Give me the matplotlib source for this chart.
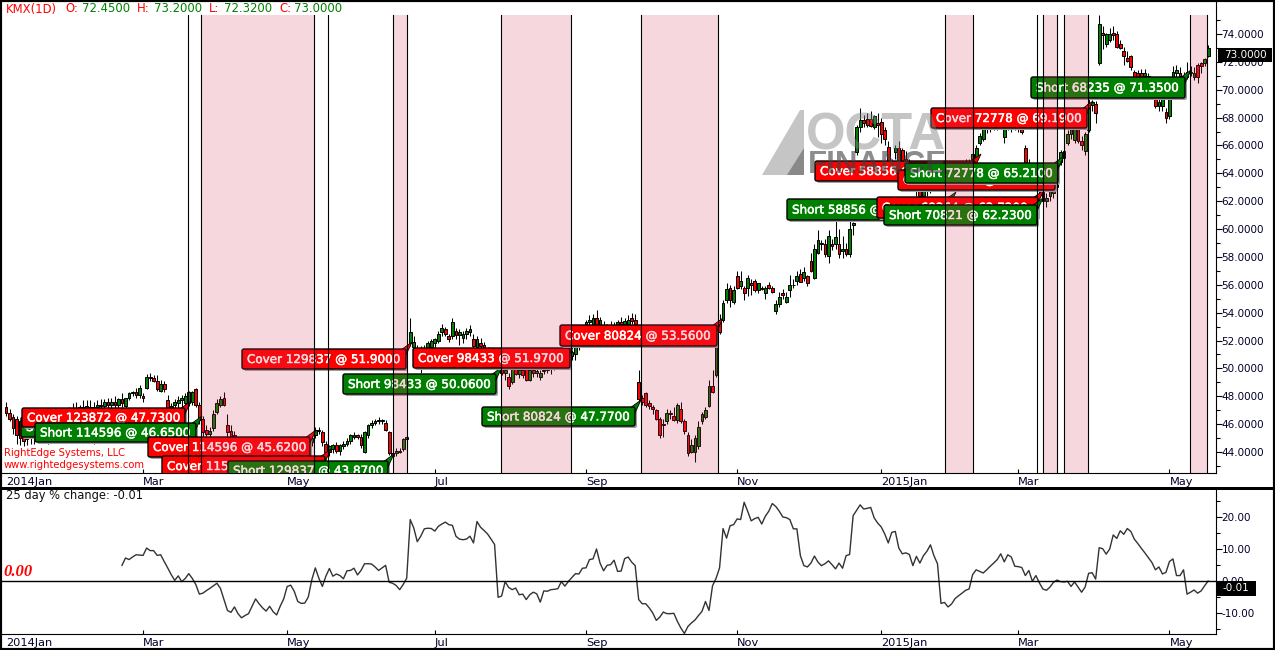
import numpy as np
import matplotlib
matplotlib.use("Agg")
import matplotlib.pyplot as plt
import matplotlib.patheffects as pe
from matplotlib.patches import FancyBboxPatch, Polygon, Rectangle
from matplotlib.transforms import Affine2D
from matplotlib.ticker import FixedLocator, MultipleLocator

# daily candles, one row of ten per line
opens = [47.2,46.8,46.5,46.4,46.2,45.2,44.9,45.3,45.1,45.6,
         45.2,45.7,45.4,45.8,45.5,45.9,46.1,46.5,46.2,46.9,
         47.1,46.7,47.2,47.0,47.2,46.9,47.2,47.4,47.3,47.6,
         47.4,47.6,47.4,47.8,47.3,47.9,48.2,48.3,48.1,48.0,
         48.6,49.4,49.3,49.1,48.4,48.9,47.7,47.1,47.4,47.5,
         47.7,47.5,47.5,47.6,48.5,47.4,46.4,45.6,45.3,45.7,
         46.9,47.4,47.9,45.9,45.5,45.2,44.9,44.4,44.2,43.9,
         44.1,43.8,43.5,43.3,43.6,43.9,44.0,43.7,43.4,43.7,
         43.5,43.8,44.2,44.4,44.2,44.0,44.3,44.7,45.2,45.6,
         45.4,44.6,44.0,44.2,44.5,44.1,44.4,44.6,44.8,45.1,
         45.2,45.1,44.0,45.2,45.9,46.1,46.2,46.3,46.1,45.4,
         43.9,43.9,44.1,44.2,44.9,51.8,51.5,51.2,50.9,51.1,
         51.4,51.5,51.8,52.0,52.6,52.8,52.3,52.3,52.7,52.4,
         52.2,52.5,52.6,52.1,51.5,51.8,51.7,51.2,50.8,50.5,
         50.3,50.0,49.7,49.4,49.0,50.0,49.6,49.9,50.0,49.2,
         49.9,49.7,49.4,49.8,49.9,50.0,50.2,50.3,50.6,50.5,
         50.8,50.9,51.0,51.5,52.1,52.6,53.3,53.0,53.6,53.0,
         53.0,52.7,53.0,52.8,53.1,53.3,53.2,53.2,53.6,53.5,
         49.0,47.9,48.2,47.5,47.2,47.0,46.4,46.0,46.2,46.8,
         46.6,46.3,47.1,46.2,45.2,44.0,44.0,44.4,46.2,46.5,
         47.3,48.7,49.5,53.5,53.5,54.9,55.8,54.8,56.6,55.9,
         55.8,55.8,56.1,56.3,55.6,55.8,55.4,56.0,55.8,54.1,
         54.6,55.4,54.8,55.6,56.0,56.3,56.8,56.5,56.6,57.7,
         56.5,58.3,59.0,58.9,58.1,58.9,58.9,58.9,58.4,58.6,
         58.2,60.3,65.5,67.3,67.8,67.9,67.9,67.3,67.6,67.7,
         67.1,65.9,64.8,65.5,65.8,65.7,65.0,64.5,64.1,63.8,
         62.8,62.4,62.8,63.0,63.5,63.3,63.7,64.2,64.0,63.5,
         63.9,63.6,64.0,64.4,64.2,65.0,65.2,66.2,66.5,67.3,
         67.5,67.3,67.4,67.6,66.6,67.4,67.5,67.5,67.4,67.2,
         65.8,64.6,64.2,63.9,63.3,62.7,62.0,62.4,62.6,63.0,
         64.8,65.6,66.2,66.8,66.4,67.3,66.3,65.6,67.1,68.9,
         69.0,71.9,74.1,73.3,73.6,74.1,74.0,73.3,72.8,72.3,
         72.4,71.3,71.2,71.2,71.0,71.0,70.4,69.4,68.8,68.8,
         68.4,68.1,70.9,71.2,71.2,71.0,70.9,71.3,70.9,71.8,
         71.9,71.9,72.45]
highs = [47.6,47.1,46.7,46.6,46.3,45.6,45.5,45.6,45.8,46.1,
         45.9,46.2,46.0,46.3,46.1,46.4,46.8,46.9,47.2,47.5,
         47.6,47.4,47.7,47.7,47.7,47.6,47.7,47.8,47.8,47.9,
         47.9,48.0,47.9,48.2,47.9,48.3,48.4,48.6,48.8,48.2,
         49.6,49.7,49.5,49.5,49.2,49.1,48.1,47.5,47.8,48.0,
         48.1,48.2,48.4,48.4,48.6,47.6,46.6,45.9,45.8,47.0,
         47.8,48.0,48.3,46.7,45.9,45.5,45.1,44.8,44.6,44.3,
         44.4,44.1,43.9,43.8,44.1,44.3,44.3,44.0,43.9,44.0,
         44.0,44.3,44.6,44.7,44.5,44.4,44.8,45.2,45.8,45.8,
         45.6,44.8,44.5,44.6,44.7,44.6,44.8,45.0,45.3,45.4,
         45.3,45.3,45.5,46.0,46.3,46.4,46.5,46.4,46.3,45.5,
         44.2,44.3,44.3,45.0,45.3,53.6,52.3,51.7,51.6,51.7,
         52.0,52.1,52.2,52.7,53.2,53.0,52.5,53.6,52.9,52.8,
         52.7,52.9,53.1,52.5,52.3,52.2,51.9,51.5,51.1,50.8,
         50.7,50.4,50.1,49.7,50.1,50.2,50.1,50.1,50.2,50.1,
         50.2,50.0,49.9,50.0,50.1,50.4,50.5,50.7,50.9,51.0,
         51.1,51.3,51.9,52.3,52.9,53.5,53.8,53.9,54.2,53.7,
         53.4,53.2,53.4,53.3,53.5,53.7,53.6,53.8,54.0,53.9,
         49.9,48.1,48.3,47.7,47.4,47.1,46.5,46.4,47.1,47.0,
         47.2,47.5,47.6,46.4,45.4,44.9,45.2,46.2,46.9,47.2,
         49.2,49.9,51.9,53.9,54.9,56.1,56.0,55.9,57.0,57.0,
         55.9,56.7,56.4,56.4,56.1,55.9,55.9,56.2,55.9,54.9,
         55.5,55.7,55.5,56.7,56.4,57.0,57.1,57.3,56.7,58.3,
         58.9,59.9,59.2,59.3,59.9,59.3,61.8,60.0,59.5,59.0,
         61.0,60.5,67.5,68.7,68.2,68.3,68.5,68.2,68.3,68.0,
         67.3,66.3,65.0,66.0,66.3,65.8,65.6,65.0,64.6,64.3,
         63.4,63.2,63.5,63.9,64.1,64.0,64.5,64.9,64.6,64.2,
         64.4,64.3,64.6,65.0,65.0,65.6,66.0,66.9,67.6,67.7,
         67.8,67.6,67.9,67.9,67.6,67.8,67.8,67.7,67.7,67.4,
         66.0,65.0,64.6,64.2,63.6,63.0,62.6,63.0,63.0,64.0,
         65.7,65.9,67.1,67.5,67.6,67.5,66.7,67.0,69.5,69.3,
         69.2,75.4,74.6,74.1,74.4,74.6,74.2,73.6,73.1,72.8,
         72.5,71.4,71.4,71.5,71.5,71.2,70.7,69.6,69.5,69.6,
         68.7,69.6,71.7,71.8,71.6,71.3,72.0,71.7,71.6,71.9,
         72.0,72.3,73.2]
lows = [46.6,46.2,45.3,44.6,44.5,44.4,44.5,44.6,44.6,45.0,
        44.7,45.2,44.6,45.2,44.9,45.3,45.5,45.9,45.8,46.4,
        46.5,46.0,46.4,46.2,45.6,44.6,44.7,45.0,45.2,46.0,
        46.5,47.1,47.0,47.2,47.1,47.7,48.0,47.9,47.9,47.6,
        48.5,49.1,49.0,48.4,48.3,48.3,46.9,46.8,47.0,47.1,
        47.2,47.2,47.3,47.4,47.2,46.0,45.0,45.0,45.1,45.5,
        46.7,47.2,47.3,45.1,44.9,44.7,44.2,44.0,43.7,43.5,
        43.6,43.2,43.0,43.0,43.3,43.6,43.5,43.2,43.1,43.3,
        43.2,43.5,43.9,44.0,43.8,43.7,44.1,44.4,45.0,45.3,
        44.4,43.8,43.7,43.9,43.9,43.8,44.2,44.4,44.6,44.9,
        44.9,44.3,43.9,45.0,45.7,45.9,46.0,46.0,45.5,43.8,
        43.5,43.7,43.9,44.1,44.6,51.6,51.1,50.4,49.7,50.8,
        51.1,51.2,51.5,51.8,52.3,52.3,51.9,52.1,52.1,51.7,
        51.8,52.1,52.3,51.2,51.0,51.3,51.0,50.6,50.2,50.0,
        49.9,49.5,49.2,48.5,48.9,49.5,49.3,49.3,49.1,49.1,
        49.4,49.4,49.2,49.6,49.7,49.6,49.9,50.0,50.2,50.2,
        50.4,50.6,50.6,51.3,51.9,52.5,53.0,52.8,52.9,52.8,
        52.4,52.4,52.5,52.6,52.8,53.0,52.9,52.9,53.2,53.0,
        47.6,47.4,47.2,47.1,46.7,46.3,45.0,45.1,46.0,46.4,
        46.2,46.1,46.1,45.3,43.7,43.9,43.3,44.2,46.0,46.4,
        47.2,48.2,49.4,52.5,53.3,54.7,54.4,54.6,55.7,55.7,
        54.9,55.2,55.3,55.5,55.4,55.6,55.0,55.7,55.4,53.9,
        54.4,55.0,54.7,55.1,55.8,56.0,56.2,56.3,55.9,56.9,
        56.4,58.2,58.5,58.0,57.6,58.5,58.6,57.9,57.9,58.1,
        58.0,59.6,65.3,67.0,67.3,67.3,67.3,67.2,66.6,66.2,
        66.0,63.4,63.8,65.0,64.5,64.7,64.2,63.8,63.4,62.4,
        62.0,62.0,62.4,62.6,63.0,62.9,63.2,63.8,63.3,63.0,
        63.4,63.1,63.5,64.0,63.9,64.8,65.0,66.0,66.3,66.9,
        67.0,67.1,67.1,67.2,66.2,67.1,67.0,67.1,67.0,66.8,
        64.6,64.0,63.6,63.2,62.5,61.8,61.6,62.0,62.2,62.8,
        64.6,64.9,66.0,66.5,66.2,66.2,65.7,65.3,67.0,68.5,
        67.6,71.8,72.9,73.1,73.4,73.6,73.0,72.9,71.8,72.0,
        71.4,70.7,70.6,70.5,70.6,70.2,69.6,68.7,68.5,68.5,
        67.6,67.9,70.7,70.8,70.7,70.6,70.8,71.0,70.7,70.5,
        71.2,71.7,72.32]
closes = [46.8,46.4,45.7,45.2,45.0,44.8,45.3,45.0,45.6,45.2,
          45.7,45.4,45.8,45.5,45.9,46.1,46.5,46.2,46.9,47.1,
          46.7,47.2,46.8,47.3,46.9,47.2,47.4,47.3,47.6,47.4,
          47.6,47.4,47.8,47.5,47.9,48.2,48.3,48.1,48.6,47.9,
          49.4,49.3,49.1,48.5,48.9,48.5,47.1,47.3,47.6,47.7,
          47.9,48.0,48.3,48.3,47.4,46.3,45.4,45.3,45.5,46.7,
          47.5,47.8,47.4,45.4,45.1,44.9,44.4,44.2,43.9,44.1,
          43.8,43.5,43.3,43.6,43.9,44.0,43.7,43.4,43.7,43.5,
          43.8,44.2,44.4,44.2,44.0,44.3,44.7,45.0,45.6,45.5,
          44.7,44.0,44.4,44.5,44.1,44.5,44.6,44.8,45.2,45.2,
          45.1,44.5,45.4,45.9,46.1,46.2,46.3,46.2,45.6,43.9,
          43.7,44.1,44.0,44.9,45.1,52.6,51.9,51.0,51.2,51.4,
          51.8,52.0,52.1,52.5,52.9,52.5,52.1,53.3,52.4,52.6,
          52.5,52.7,52.8,51.6,52.1,51.6,51.2,50.8,50.5,50.3,
          50.1,49.7,49.9,48.7,50.0,49.6,49.9,49.5,49.2,49.9,
          49.7,49.8,49.7,49.9,50.0,50.2,50.3,50.6,50.5,50.8,
          50.9,51.2,51.5,52.1,52.6,53.3,53.5,53.6,53.1,53.5,
          52.7,53.0,52.8,53.1,53.3,53.2,53.4,53.5,53.4,53.2,
          47.8,47.6,47.4,47.3,47.1,46.4,45.2,45.9,46.8,46.7,
          46.3,47.4,46.2,45.5,43.9,44.5,45.0,45.8,46.7,47.0,
          48.7,48.3,51.8,52.6,54.7,55.7,54.9,55.6,55.8,56.3,
          55.4,56.5,56.0,55.6,56.1,55.7,55.8,55.8,55.5,54.6,
          55.1,55.3,55.1,56.0,56.0,56.6,56.2,56.9,56.1,57.0,
          58.6,59.2,58.9,58.2,59.5,58.8,59.4,58.2,58.6,58.2,
          60.0,60.4,67.3,67.8,67.6,67.5,67.4,68.1,67.5,66.8,
          66.5,64.8,64.5,65.8,64.9,64.8,64.6,64.1,63.7,62.8,
          62.4,62.8,63.0,63.5,63.3,63.7,64.2,64.0,63.5,63.9,
          63.6,64.0,64.4,64.2,64.8,65.4,65.8,66.7,67.3,67.5,
          67.3,67.4,67.6,67.5,67.3,67.5,67.3,67.3,67.2,67.0,
          64.8,64.2,63.9,63.5,62.8,62.0,62.2,62.8,62.9,63.9,
          65.5,65.1,66.8,67.2,67.3,66.3,66.0,66.8,69.0,69.1,
          68.3,74.7,73.9,74.0,74.0,73.9,73.1,73.0,72.4,72.1,
          71.6,70.9,70.8,70.9,71.2,70.4,69.9,68.8,69.1,69.4,
          68.0,69.4,71.3,71.4,71.0,70.9,71.3,71.2,71.2,70.9,
          71.7,72.2,73.0]

# 25 day % change, first value sits on bar 33
pct_first_bar = 33
pct_change = [4.9,7.2,6.7,7.5,8.2,8.1,8.0,10.3,9.5,9.5,
              8.0,8.2,6.1,4.1,2.0,0.2,1.6,-0.2,0.8,
              2.3,0.8,-1.1,-4.1,-3.8,-3.0,-2.3,-1.5,-0.7,-2.3,
              -5.8,-9.2,-9.8,-8.1,-10.2,-11.5,-10.8,-10.2,-7.9,-5.6,
              -7.1,-8.4,-9.4,-7.9,-9.6,-10.6,-7.9,-5.6,-1.7,-1.3,
              -3.2,-6.4,-7.0,-6.9,-5.0,0.4,4.1,0.9,-1.7,1.5,
              3.9,1.5,2.2,1.7,0.7,3.2,3.3,4.0,1.9,3.3,
              5.4,5.4,5.3,4.4,3.3,4.1,4.9,-0.4,-0.7,-1.4,
              -2.7,-1.1,0.9,19.2,16.6,12.3,14.0,16.3,16.5,16.4,
              15.6,17.1,17.8,18.4,17.6,17.4,14.0,13.1,12.9,13.1,
              14.0,11.9,18.6,16.8,15.8,14.7,13.1,11.4,-5.1,-4.7,
              -0.2,-2.0,-2.7,-2.2,-4.3,-4.1,-5.8,-4.3,-3.5,-4.0,
              -6.6,-3.1,-3.2,-2.7,-2.6,-2.4,-0.2,-1.6,-0.1,1.1,
              2.3,2.2,4.0,4.1,6.7,6.9,10.0,5.6,3.2,4.9,
              5.1,6.5,3.0,3.1,7.0,7.5,5.9,4.8,-5.8,
              -7.1,-7.1,-8.4,-10.0,-12.3,-11.3,-9.7,-10.2,-10.2,-10.1,
              -12.6,-14.7,-16.4,-14.2,-13.1,-12.2,-10.8,-9.5,-6.4,-9.2,
              -1.5,0.8,4.1,16.4,13.4,17.3,17.6,19.4,19.2,24.6,
              21.8,18.8,19.5,19.9,17.8,20.2,21.8,24.2,23.3,21.8,
              20.0,19.8,19.2,16.3,16.3,7.9,4.8,4.4,5.6,7.8,
              5.9,4.8,5.4,6.3,5.1,3.8,5.6,4.0,7.9,8.3,
              20.4,22.1,23.8,22.5,22.7,23.0,19.7,18.1,16.9,14.7,
              11.9,15.2,15.5,10.3,8.5,8.8,8.3,4.8,7.7,5.6,
              7.9,9.3,11.3,7.9,5.4,-7.0,-6.7,-8.1,-7.2,-5.5,
              -4.6,-3.8,-2.9,-2.5,2.0,3.5,3.0,2.5,3.5,4.6,
              5.6,6.7,8.5,6.0,8.2,7.5,4.6,4.5,4.2,1.7,
              3.3,-0.1,1.7,-0.6,-2.5,-2.9,-1.9,-0.4,0.3,-0.2,
              -0.3,-0.1,-1.7,-0.3,-1.9,-3.5,-1.9,2.4,2.6,0.6,
              10.4,10.1,8.4,10.0,14.4,13.3,15.7,14.6,16.4,15.5,
              13.1,11.7,10.2,8.8,7.3,5.8,3.5,4.4,2.2,2.7,
              6.1,6.9,1.7,1.7,3.5,-4.1,-3.5,-2.8,-3.8,-3.1,
              -1.5,-0.01]

# trades: shaded while short, single lines for one bar trades
span_start = [55.6,110.1,140.8,180.7,267.1,295.0,301.0,336.9]
span_end = [87.5,114.2,160.7,202.6,275.1,299.0,307.8,341.7]
single_lines = [51.8,91.5,293.3]

date_bars = [0,39,80,122,165,208,249,288,331]
date_labels = ["2014Jan","Mar","May","Jul","Sep","Nov","2015Jan","Mar","May"]

trade_labels = ["Short 123872 @ 46.1000","Cover 123872 @ 47.7300","Short 114596 @ 46.6500",
                "Cover 114596 @ 45.6200","Cover 115136 @ 44.8000","Short 129837 @ 43.8700",
                "Cover 129837 @ 51.9000","Short 98433 @ 50.0600","Cover 98433 @ 51.9700",
                "Short 80824 @ 47.7700","Cover 80824 @ 53.5600","Short 58856 @ 60.0300",
                "Cover 58856 @ 64.9900","Cover 69264 @ 62.7200","Short 70821 @ 62.2300",
                "Cover 70821 @ 64.0000","Short 72778 @ 65.2100","Cover 72778 @ 69.1900",
                "Short 68235 @ 71.3500"]
# label boxes in picture pixels: left, top, right, bottom
box_left = [21,22,35,148,162,228,242,343,413,482,560,787,815,877,884,898,905,931,1031]
box_top = [417,408,423,437,456,461,349,374,348,407,325,199,161,197,205,170,163,108,77]
box_right = [180,185,196,310,325,388,406,496,570,635,717,950,975,1038,1037,1055,1058,1087,1185]
box_bottom = [437,427,442,457,476,480,369,394,368,426,346,220,181,218,225,190,183,128,98]

text_col = "#00002a"
plt.rcParams["font.family"] = "DejaVu Sans"
fig = plt.figure(figsize=(12.75,6.5),dpi=100)
px = Affine2D().scale(1,-1).translate(0,650) # picture pixels to display

def rect(x0,y0,x1,y1):
    return [x0/1275,1-y1/650,(x1-x0)/1275,(y1-y0)/650]

bar_x0, bar_step = 6, 3.515
xlim = ((2-bar_x0)/bar_step,(1216-bar_x0)/bar_step)
ax1 = fig.add_axes(rect(2,2,1216,473))
ax2 = fig.add_axes(rect(2,490,1216,634))

bars = np.arange(len(closes))
o,h,l,c = [np.array(a) for a in (opens,highs,lows,closes)]
up = c>=o
ax1.vlines(bars,l,h,color="k",lw=0.75,zorder=2)
ax1.bar(bars,np.abs(c-o),bottom=np.minimum(o,c),width=0.8,
        color=np.where(up,"#008000","#ff0000"),edgecolor="k",linewidth=0.7,zorder=3)

ax2.plot(pct_first_bar+np.arange(len(pct_change)),pct_change,color="#333333",lw=1)
ax2.axhline(0,color="k",lw=1)

ax1.set_xlim(xlim)
ax2.set_xlim(xlim)
ax1.set_ylim(42.49,76.3)
ax2.set_ylim(-16.56,28.44)

for ax in (ax1,ax2):
    ax.spines["top"].set_visible(False)
    ax.spines["left"].set_visible(False)
    ax.yaxis.tick_right()
    ax.set_xticks(date_bars)
    ax.set_xticklabels(date_labels,ha="left",color=text_col,fontsize=8.2)
    ax.tick_params(axis="x",direction="in",length=3,width=0.8,pad=3)
    ax.tick_params(axis="y",which="major",length=4,width=0.8,pad=0,labelsize=7.5,labelcolor=text_col)
    ax.tick_params(axis="y",which="minor",length=3,width=0.8)
    ax.xaxis.get_major_ticks()[0].tick1line.set_visible(False)

ax1.yaxis.set_major_locator(FixedLocator(np.arange(44,75,2)))
ax1.yaxis.set_minor_locator(FixedLocator(np.arange(43,76,2)))
ax1.yaxis.set_major_formatter(lambda v,pos: "%.4f"%v)
ax2.yaxis.set_major_locator(MultipleLocator(10))
ax2.yaxis.set_minor_locator(MultipleLocator(5))
ax2.yaxis.set_major_formatter(lambda v,pos: "%.2f"%v)

# trade labels, in time order so that later ones cover earlier ones
for s,x0,y0,x1,y1 in zip(trade_labels,box_left,box_top,box_right,box_bottom):
    face = "#ff0000" if s.startswith("Cover") else "#008000"
    ax1.add_patch(FancyBboxPatch((x0+2,y0+2),x1-x0,y1-y0,boxstyle="round,pad=0,rounding_size=2",
                                 fc="#a0a0a0",ec="none",transform=px,zorder=4))
    ax1.add_patch(Polygon([(x1-5,y0+1),(x1+6,y0-7),(x1,y0+6)],fc=face,ec="k",lw=0.6,transform=px,zorder=4))
    ax1.add_patch(FancyBboxPatch((x0,y0),x1-x0,y1-y0,boxstyle="round,pad=0,rounding_size=2",
                                 fc=face,ec="k",lw=1,transform=px,zorder=4))
    ax1.text(x0+5,(y0+y1)/2+0.5,s,color="white",fontsize=8.6,va="center",ha="left",transform=px,zorder=4,
             clip_on=True,path_effects=[pe.withStroke(linewidth=0.35,foreground="white")])

# short periods tint everything under them
shade_top = (473-15)/(473-2)
for a,b in zip(span_start,span_end):
    ax1.axvspan(a,b,ymin=0,ymax=shade_top,fc="#d7375a",alpha=0.2,lw=0,zorder=5)
    ax1.axvline(a,ymax=shade_top,color="k",lw=0.8,zorder=6)
    ax1.axvline(b,ymax=shade_top,color="k",lw=0.8,zorder=6)
for a in single_lines:
    ax1.axvline(a,ymax=shade_top,color="k",lw=0.8,zorder=6)

# watermark
ax1.add_patch(Polygon([(762,175),(800,110),(804,110),(804,175)],fc="#808080",ec="none",alpha=0.45,transform=px,zorder=7))
ax1.add_patch(Polygon([(787,175),(804,148),(804,175)],fc="#404040",ec="none",alpha=0.45,transform=px,zorder=7))
ax1.text(806,150,"OCTA",family="Liberation Sans",weight="bold",fontsize=36.5,color="#808080",alpha=0.45,
         transform=px,zorder=7,ha="left",va="baseline")
ax1.text(808,173,"FINANCE",family="Liberation Sans",weight="bold",fontsize=22.5,color="#404040",alpha=0.6,
         transform=px,zorder=7,ha="left",va="baseline")

# header and small notes
head_x = [6,65,82,137,154,209,224,279,294]
head_txt = ["KMX(1D)","O:","72.4500","H:","73.2000","L:","72.3200","C:","73.0000"]
head_col = ["#ff0000","#ff0000","#008000","#ff0000","#008000","#ff0000","#008000","#ff0000","#008000"]
for x,s,col in zip(head_x,head_txt,head_col):
    fig.text(x/1275,1-9/650,s,color=col,fontsize=8.4,va="center",ha="left")
fig.text(4/1275,1-453/650,"RightEdge Systems, LLC",color="#ff0000",fontsize=7.2,va="center",zorder=10)
fig.text(4/1275,1-465/650,"www.rightedgesystems.com",color="#ff0000",fontsize=7.2,va="center",zorder=10)
fig.text(6/1275,1-496/650,"25 day % change: -0.01",color="#111111",fontsize=8.3,va="center")
fig.text(3/1275,1-572/650,"0.00",color="#ff0000",family=["Liberation Serif"],style="italic",weight="bold",
         fontsize=12,va="center")

# last value boxes
fig.add_artist(Rectangle((1218/1275,1-62/650),54/1275,14/650,fc="k",ec="none",transform=fig.transFigure))
fig.text(1245/1275,1-55/650,"73.0000",color="white",fontsize=7.5,va="center",ha="center")
fig.add_artist(Rectangle((1216/1275,1-596/650),40/1275,15/650,fc="k",ec="none",transform=fig.transFigure))
fig.text(1236/1275,1-588/650,"-0.01",color="white",fontsize=7.5,va="center",ha="center")

# outer frame and the heavy bar between the panels
fig.add_artist(Rectangle((0,0),1,1,fill=False,ec="k",lw=3,transform=fig.transFigure))
fig.add_artist(Rectangle((0,1-490/650),1,3/650,fc="k",ec="none",transform=fig.transFigure))

fig.savefig("out.png",dpi=100)
